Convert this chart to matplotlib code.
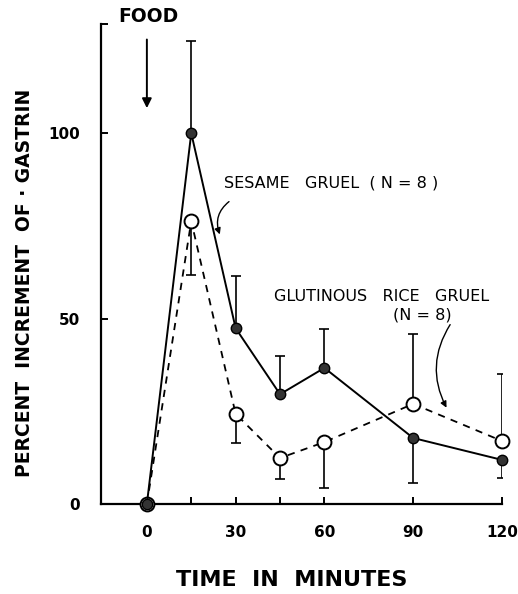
import numpy as np
import matplotlib
matplotlib.use("Agg")
import matplotlib.pyplot as plt

# data
minutes = [0, 15, 30, 45, 60, 90, 120]
sesame = [0, 100, 47.4, 29.6, 36.7, 17.8, 11.9]
sesame_err_lo = [0, 0, 0, 0, 0, 12.2, 4.9]
sesame_err_hi = [0, 24.8, 14.0, 10.3, 10.5, 0, 0]
rice = [0, 76.3, 24.3, 12.4, 16.7, 27.0, 17.0]
rice_err_lo = [0, 14.6, 7.9, 5.7, 12.4, 0, 0]
rice_err_hi = [0, 0, 0, 0, 0, 18.8, 18.0]
xticks = [0, 30, 60, 90, 120]
xminor = [15, 45]
yticks = [0, 50, 100]

plt.rcParams['font.family'] = ['DejaVu Sans']

fig = plt.figure(figsize=(5.18, 5.94), dpi=100)
ax = fig.add_axes([0.195, 0.1515, 0.774, 0.8085])
ax.set_xlim(-15.5, 120)
ax.set_ylim(0, 129.5)

ax.errorbar(minutes, rice, yerr=[rice_err_lo, rice_err_hi], fmt='none',
            ecolor='black', elinewidth=1.2, capsize=3.5, capthick=1.2, zorder=2)
ax.errorbar(minutes, sesame, yerr=[sesame_err_lo, sesame_err_hi], fmt='none',
            ecolor='black', elinewidth=1.2, capsize=3.5, capthick=1.2, zorder=2)
ax.plot(minutes, rice, color='black', linestyle=(0, (4, 3.5)), linewidth=1.3,
        marker='o', markersize=10, markerfacecolor='white',
        markeredgecolor='black', markeredgewidth=1.4, clip_on=False, zorder=3)
ax.plot(minutes, sesame, color='black', linestyle='-', linewidth=1.4,
        marker='o', markersize=7.5, markerfacecolor='#333333',
        markeredgecolor='black', clip_on=False, zorder=4)

for s in ['top', 'right']:
    ax.spines[s].set_visible(False)
ax.spines['left'].set_linewidth(1.6)
ax.spines['bottom'].set_linewidth(1.6)
ax.set_xticks(xticks)
ax.set_xticks(xminor, minor=True)
ax.set_yticks(yticks)
ax.set_yticks([129.5], minor=True)
ax.tick_params(which='both', direction='in', length=5, width=1.4,
               labelsize=11)
ax.tick_params(axis='x', pad=15)
ax.tick_params(axis='y', pad=15)
for lab in ax.get_xticklabels() + ax.get_yticklabels():
    lab.set_fontweight('bold')

fig.text(0.564, 0.024, 'TIME  IN  MINUTES', ha='center',
         va='center', fontsize=16, fontweight='bold')
fig.text(0.047, 0.523, 'PERCENT  INCREMENT  OF · GASTRIN',
         ha='center', va='center', rotation=90, fontsize=13.5,
         fontweight='bold')

ax.text(0.5, 131.5, 'FOOD', ha='center', va='center', fontsize=13.5,
        fontweight='bold', clip_on=False)
ax.annotate('', xy=(0, 106), xytext=(0, 126),
            arrowprops=dict(arrowstyle='-|>', color='black', lw=1.4,
                            mutation_scale=14))

ax.text(26, 86.5, 'SESAME   GRUEL  ( N = 8 )', ha='left', va='center',
        fontsize=11.5)
ax.annotate('', xy=(25, 72), xytext=(28.5, 82),
            arrowprops=dict(arrowstyle='-|>', color='black', lw=1.0,
                            connectionstyle='arc3,rad=0.4',
                            mutation_scale=9))

ax.text(43, 56, 'GLUTINOUS   RICE   GRUEL', ha='left', va='center',
        fontsize=11.5, clip_on=False)
ax.text(93, 51, '(N = 8)', ha='center', va='center', fontsize=11.5)
ax.annotate('', xy=(101.7, 25.3), xytext=(103, 49),
            arrowprops=dict(arrowstyle='-|>', color='black', lw=1.0,
                            connectionstyle='arc3,rad=0.3',
                            mutation_scale=9))

fig.savefig('out.png', dpi=100)
